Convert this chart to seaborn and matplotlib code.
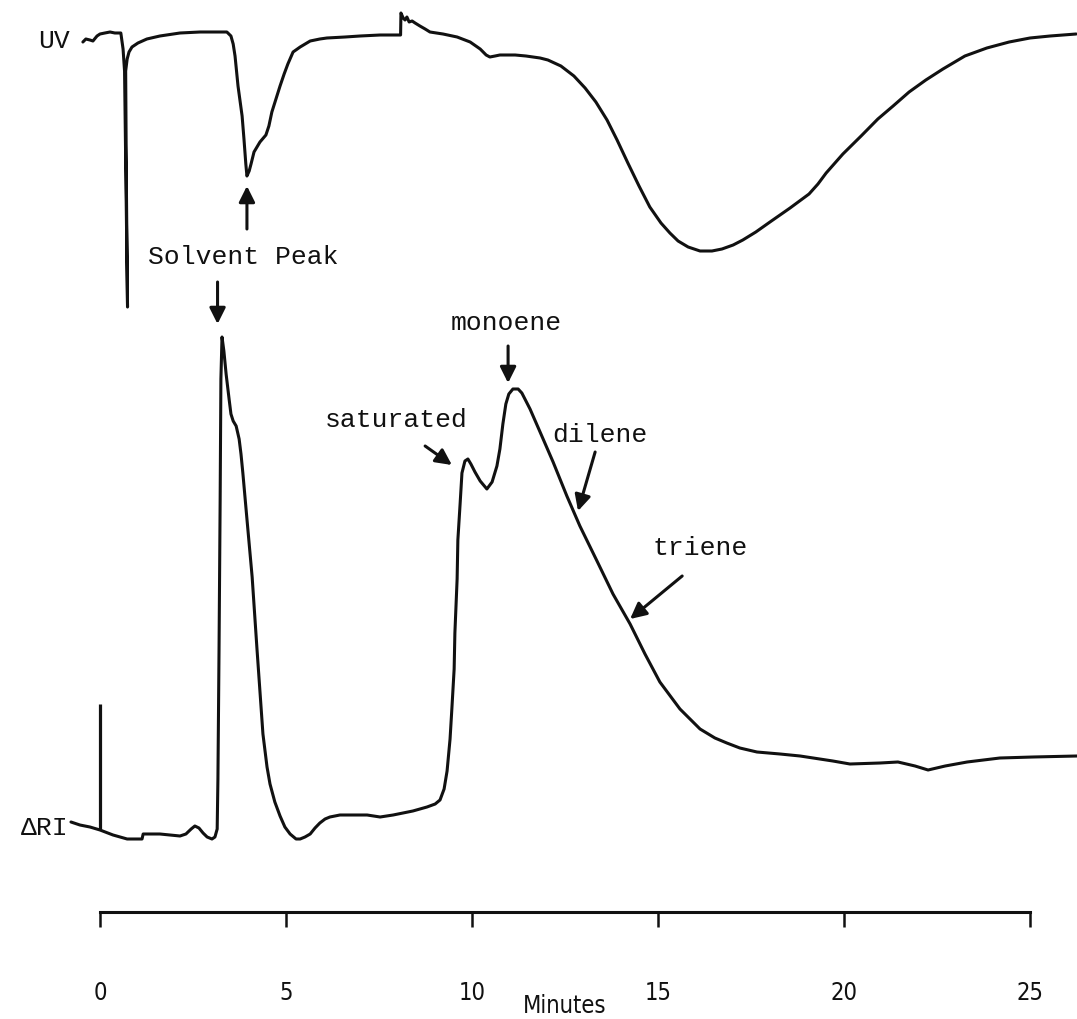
import numpy as np
import matplotlib
matplotlib.use("Agg")
import matplotlib.pyplot as plt
import seaborn as sns

# ---- UV detector trace (minutes, relative response) ----
uv_minutes = [-0.46, -0.38, -0.27, -0.19, -0.08, 0.00, 0.13, 0.27, 0.40, 0.56,
              0.62, 0.66, 0.70, 0.74, 0.71, 0.69, 0.73, 0.78, 0.86, 1.02,
              1.26, 1.61, 2.15, 2.69, 3.41, 3.52, 3.58, 3.63, 3.71, 3.82,
              3.87, 3.92, 3.95, 4.01, 4.06, 4.14, 4.30, 4.46, 4.54, 4.62,
              4.73, 4.84, 4.95, 5.05, 5.19, 5.38, 5.65, 5.91, 6.10, 6.59,
              6.99, 7.53, 8.08, 8.09, 8.15, 8.20, 8.25, 8.31, 8.39, 8.47,
              8.60, 8.74, 8.87, 9.22, 9.60, 9.95, 10.22, 10.38, 10.48, 10.62,
              10.75, 11.16, 11.45, 11.83, 12.04, 12.39, 12.74, 13.04, 13.33, 13.63,
              13.90, 14.19, 14.49, 14.78, 15.08, 15.32, 15.54, 15.81, 16.13, 16.45,
              16.72, 17.02, 17.28, 17.63, 18.01, 18.55, 19.06, 19.30, 19.52, 19.97,
              20.46, 20.91, 21.32, 21.75, 22.20, 22.66, 23.25, 23.84, 24.44, 25.00,
              25.54, 26.24]
uv_response = [-0.9, -0.6, -0.7, -0.8, -0.3, -0.1, 0.0, 0.1, 0.0, 0.0,
               -1.6, -3.8, -15.6, -27.4, -15.6, -3.8, -2.6, -1.9, -1.4, -1.0,
               -0.6, -0.3, 0.0, 0.1, 0.1, -0.3, -1.1, -2.3, -5.3, -8.3,
               -10.6, -13.1, -14.3, -13.8, -13.1, -11.9, -10.9, -10.2, -9.3, -7.9,
               -6.6, -5.3, -4.1, -3.1, -1.9, -1.4, -0.8, -0.6, -0.5, -0.4,
               -0.3, -0.2, -0.2, 2.0, 1.5, 1.3, 1.6, 1.1, 1.2, 1.0,
               0.7, 0.4, 0.1, -0.1, -0.4, -0.9, -1.6, -2.2, -2.4, -2.3,
               -2.2, -2.2, -2.3, -2.5, -2.7, -3.3, -4.3, -5.5, -6.9, -8.7,
               -10.7, -13.0, -15.3, -17.4, -19.0, -20.0, -20.8, -21.4, -21.8, -21.8,
               -21.6, -21.2, -20.7, -19.9, -18.9, -17.5, -16.1, -15.1, -14.0, -12.1,
               -10.3, -8.6, -7.3, -5.9, -4.7, -3.6, -2.3, -1.5, -0.9, -0.5,
               -0.3, -0.1]

# ---- Refractive index detector trace (minutes, relative response) ----
ri_minutes = [-0.78, -0.54, -0.27, 0.00, 0.35, 0.73, 1.13, 1.16, 1.61, 2.15,
              2.31, 2.45, 2.55, 2.66, 2.77, 2.88, 3.01, 3.09, 3.15, 3.17,
              3.20, 3.23, 3.25, 3.28, 3.33, 3.39, 3.47, 3.52, 3.58, 3.66,
              3.74, 3.79, 3.84, 3.95, 4.09, 4.22, 4.38, 4.49, 4.57, 4.70,
              4.84, 4.97, 5.11, 5.27, 5.38, 5.51, 5.65, 5.78, 5.91, 6.05,
              6.18, 6.45, 7.18, 7.53, 7.88, 8.41, 8.79, 9.01, 9.14, 9.25,
              9.33, 9.41, 9.46, 9.52, 9.54, 9.60, 9.62, 9.68, 9.73, 9.81,
              9.89, 9.97, 10.08, 10.22, 10.40, 10.54, 10.67, 10.75, 10.83, 10.91,
              10.99, 11.10, 11.24, 11.34, 11.56, 11.83, 12.18, 12.55, 12.90, 13.36,
              13.79, 14.25, 14.65, 15.05, 15.59, 16.13, 16.53, 16.85, 17.20, 17.66,
              18.28, 18.82, 19.70, 20.16, 20.97, 21.45, 21.91, 22.26, 22.72, 23.31,
              24.19, 25.08, 26.26]
ri_response = [1.5, 1.2, 1.0, 0.7, 0.2, -0.2, -0.2, 0.3, 0.3, 0.1,
               0.3, 0.8, 1.1, 0.9, 0.4, 0.0, -0.2, 0.0, 0.8, 5.8,
               18.8, 33.8, 45.8, 50.0, 48.6, 46.3, 43.8, 42.3, 41.6, 41.1,
               39.8, 38.3, 36.4, 31.8, 26.0, 18.8, 10.3, 7.0, 5.3, 3.5,
               2.1, 1.0, 0.3, -0.2, -0.2, 0.0, 0.3, 0.9, 1.4, 1.8,
               2.0, 2.2, 2.2, 2.0, 2.2, 2.6, 3.0, 3.3, 3.7, 4.8,
               6.6, 9.8, 12.9, 16.8, 20.4, 25.8, 29.7, 33.3, 36.4, 37.6,
               37.8, 37.3, 36.5, 35.6, 34.8, 35.5, 37.1, 38.8, 41.3, 43.3,
               44.3, 44.8, 44.8, 44.4, 42.8, 40.5, 37.5, 34.1, 31.1, 27.6,
               24.3, 21.3, 18.3, 15.5, 12.8, 10.8, 9.9, 9.4, 8.9, 8.5,
               8.3, 8.1, 7.6, 7.3, 7.4, 7.5, 7.1, 6.7, 7.1, 7.5,
               7.9, 8.0, 8.1]

injection_marker_height = 13.3      # RI injection mark at t = 0
tick_minutes = [0, 5, 10, 15, 20, 25]
tick_labels = ["0", "5", "10", "15", "20", "25"]

# ---- layout ----
UV_BASE = 98.6      # chart height of the UV baseline
RI_BASE = 18.2      # chart height of the RI baseline
AXIS_Y = 10.7       # height of the time axis
INK = "#111111"
MONO = ["Liberation Mono", "DejaVu Sans Mono"]
NARROW = ["Liberation Sans Narrow", "DejaVu Sans"]

sns.set_theme(style="white")
plt.rcParams["font.family"] = MONO

fig = plt.figure(figsize=(10.77, 10.20), dpi=100)
ax = fig.add_axes([0, 0, 1, 1])

sns.lineplot(x=uv_minutes, y=np.array(uv_response) + UV_BASE, sort=False,
             estimator=None, color=INK, lw=2.2, ax=ax)
sns.lineplot(x=ri_minutes, y=np.array(ri_response) + RI_BASE, sort=False,
             estimator=None, color=INK, lw=2.2, ax=ax)
ax.vlines(0, RI_BASE + ri_response[3], RI_BASE + injection_marker_height,
          color=INK, lw=2.3)

ax.set_xlim(-100 / 37.2, 977 / 37.2)
ax.set_ylim(0, 102)

# time axis
for side in ("left", "top", "right"):
    ax.spines[side].set_visible(False)
ax.spines["bottom"].set_position(("data", AXIS_Y))
ax.spines["bottom"].set_bounds(0, 25)
ax.spines["bottom"].set_linewidth(2.2)
ax.spines["bottom"].set_color(INK)
ax.set_xticks(tick_minutes)
ax.set_xticklabels(tick_labels)
ax.set_yticks([])
ax.tick_params(axis="x", direction="out", length=11, width=1.8, color=INK,
               pad=38, labelsize=17, labelcolor=INK, bottom=True)
for lbl in ax.get_xticklabels():
    lbl.set_fontfamily(NARROW)
    lbl.set_fontstretch("condensed")
ax.text(12.5, 1.4, "Minutes", ha="center", va="center", fontsize=17,
        family=NARROW, fontstretch="condensed", color=INK)

# trace labels
ax.text(-0.81, 97.9, "UV", ha="right", va="center", fontsize=19, color=INK)
ax.text(-0.86, 19.2, "\u0394RI", ha="right", va="center", fontsize=19, color=INK)

arrow = dict(arrowstyle="-|>", mutation_scale=24, lw=2.2, color=INK,
             shrinkA=0, shrinkB=0)

# solvent peak markers
ax.text(1.29, 76.3, "Solvent Peak", ha="left", va="center", fontsize=19, color=INK)
uv_dip = int(np.argmin(uv_response[20:60])) + 20
ax.annotate("", xy=(uv_minutes[uv_dip], UV_BASE + uv_response[uv_dip] - 1.0),
            xytext=(uv_minutes[uv_dip], UV_BASE + uv_response[uv_dip] - 5.3),
            arrowprops=arrow)
ri_top = int(np.argmax(ri_response[:40]))
ax.annotate("", xy=(ri_minutes[ri_top] - 0.12, 69.5),
            xytext=(ri_minutes[ri_top] - 0.12, 73.7), arrowprops=arrow)

# component labels with arrows (label anchor, arrow tail, arrow tip)
peak_labels = ["saturated", "monoene", "dilene", "triene"]
label_xy = [(6.05, 60.0), (10.91, 69.7), (12.15, 58.5), (14.84, 47.2)]
label_ha = ["left", "center", "left", "left"]
arrow_tail = [(8.74, 57.3), (10.97, 67.3), (13.31, 56.7), (15.65, 44.3)]
arrow_tip = [(9.46, 55.4), (10.97, 63.6), (12.85, 50.8), (14.25, 40.0)]
for name, pos, ha, tail, tip in zip(peak_labels, label_xy, label_ha,
                                    arrow_tail, arrow_tip):
    ax.text(pos[0], pos[1], name, ha=ha, va="center", fontsize=19, color=INK)
    ax.annotate("", xy=tip, xytext=tail, arrowprops=arrow)

fig.savefig("out.png", dpi=100, facecolor="white")
